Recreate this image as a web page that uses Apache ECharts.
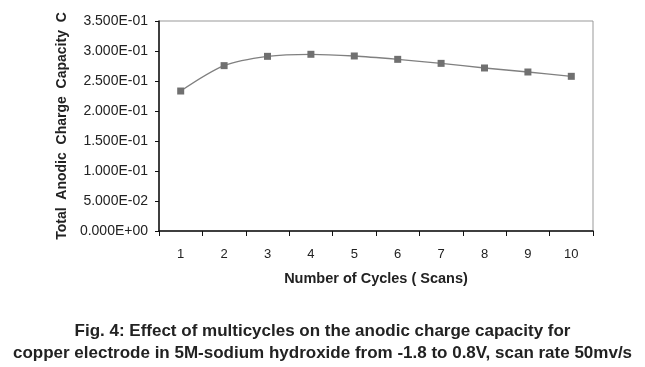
<!DOCTYPE html>
<html><head><meta charset="utf-8">
<script src="https://cdn.jsdelivr.net/npm/echarts@6/dist/echarts.min.js"></script>
<style>html,body{margin:0;padding:0;background:#fff}#c{width:645px;height:367px}</style>
</head><body><div id="c"></div>
<script>
const cycles = ['1','2','3','4','5','6','7','8','9','10'];
const capacity = [0.2333, 0.2756, 0.2911, 0.2945, 0.2917, 0.2861, 0.2794, 0.2717, 0.2650, 0.2578];
const yTicks = { min: 0, max: 0.35, interval: 0.05 };
const yTitle = 'Total  Anodic  Charge  Capacity  C';
const xTitle = 'Number of Cycles ( Scans)';
const captionLine1 = 'Fig. 4: Effect of multicycles on the anodic charge capacity for';
const captionLine2 = 'copper electrode in 5M-sodium hydroxide from -1.8 to 0.8V, scan rate 50mv/s';

function sci(v) {
  if (Math.abs(v) < 1e-12) return '0.000E+00';
  let e = Math.floor(Math.log10(Math.abs(v)) + 1e-9);
  let m = v / Math.pow(10, e);
  if (Math.abs(m) >= 9.9995) { m /= 10; e += 1; }
  const s = e < 0 ? '-' : '+';
  return m.toFixed(3) + 'E' + s + String(Math.abs(e)).padStart(2, '0');
}

const chart = echarts.init(document.getElementById('c'), null, {renderer: 'canvas'});
const font = 'Liberation Sans, Arial, sans-serif';
const capStyle = { fontFamily: font, fontSize: 17, fontWeight: 'bold', fill: '#222', textAlign: 'center', textVerticalAlign: 'middle' };
chart.setOption({
  animation: false,
  backgroundColor: '#fff',
  graphic: [
    { type: 'text', left: 'center', top: 323, style: Object.assign({ text: captionLine1 }, capStyle) },
    { type: 'text', left: 'center', top: 345, style: Object.assign({ text: captionLine2 }, capStyle) }
  ],
  grid: { left: 159, right: 52, top: 21, bottom: 136, show: true, borderColor: '#999', borderWidth: 1 },
  xAxis: {
    type: 'category', data: cycles, boundaryGap: true,
    axisLine: { lineStyle: { color: '#111', width: 1.5 } },
    axisTick: { show: true, length: 5, lineStyle: { color: '#111' } },
    axisLabel: { fontFamily: font, fontSize: 13, color: '#222', margin: 17 },
    name: xTitle, nameLocation: 'middle', nameGap: 40,
    nameTextStyle: { fontFamily: font, fontSize: 14.5, fontWeight: 'bold', color: '#222' },
    splitLine: { show: false }
  },
  yAxis: {
    type: 'value', min: yTicks.min, max: yTicks.max, interval: yTicks.interval,
    axisLine: { show: true, lineStyle: { color: '#111', width: 1.5 } },
    axisTick: { show: true, length: 4, lineStyle: { color: '#111' } },
    axisLabel: { fontFamily: font, fontSize: 14, color: '#222', margin: 11, formatter: sci },
    splitLine: { show: false },
    name: yTitle, nameLocation: 'middle', nameGap: 90, nameRotate: 90,
    nameTextStyle: { fontFamily: font, fontSize: 14, fontWeight: 'bold', color: '#222' }
  },
  series: [{
    type: 'line', data: capacity, smooth: 0.3,
    symbol: 'rect', symbolSize: 7,
    lineStyle: { color: '#808080', width: 1.3 },
    itemStyle: { color: '#707070' }
  }]
});
</script></body></html>
